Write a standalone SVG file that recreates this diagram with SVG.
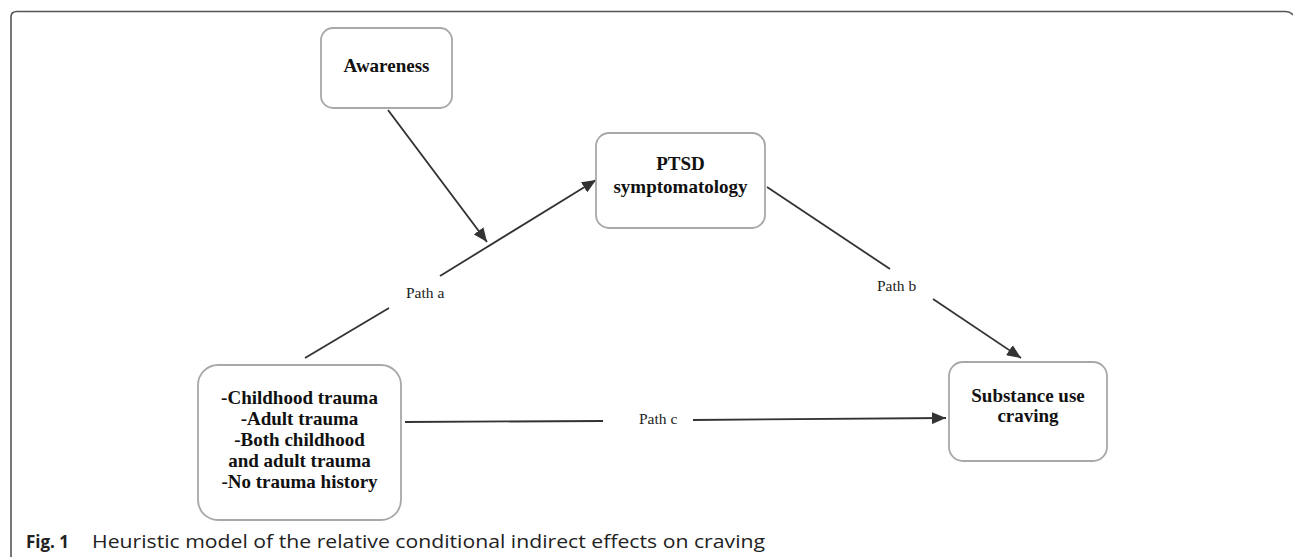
<svg xmlns="http://www.w3.org/2000/svg" width="1293" height="557" viewBox="0 0 1293 557">
  <style>
    .box { fill: #ffffff; stroke: #a8a8a8; stroke-width: 1.8; }
    .node { font-family: "Liberation Serif", "Times New Roman", serif; font-weight: bold; font-size: 19px; fill: #111; text-anchor: middle; }
    .lbl { font-family: "Liberation Serif", "Times New Roman", serif; font-size: 15.5px; fill: #222; }
    .edge { stroke: #333; stroke-width: 1.8; fill: none; }
    .cap { font-family: "Open Sans", "Noto Sans", sans-serif; font-size: 18px; fill: #222; }
  </style>
  <defs>
    <marker id="arr" markerUnits="userSpaceOnUse" markerWidth="16" markerHeight="12" refX="14" refY="6" orient="auto">
      <path d="M0,0 L14,6 L0,12 z" fill="#333"/>
    </marker>
  </defs>
  <rect width="1293" height="557" fill="#ffffff"/>
  <path d="M11,557 V17 Q11,11.5 17,11.5 H1285 Q1290,11.5 1293,15" fill="none" stroke="#555" stroke-width="1.6"/>

  <g id="connectors">
    <line class="edge" x1="388" y1="110" x2="487" y2="242" marker-end="url(#arr)"/>
    <line class="edge" x1="305" y1="358" x2="389" y2="308"/>
    <line class="edge" x1="440" y1="276" x2="596" y2="180" marker-end="url(#arr)"/>
    <line class="edge" x1="767" y1="187" x2="890" y2="269"/>
    <line class="edge" x1="933" y1="299" x2="1021" y2="358" marker-end="url(#arr)"/>
    <line class="edge" x1="405" y1="422" x2="603" y2="421"/>
    <line class="edge" x1="693" y1="420" x2="946" y2="418" marker-end="url(#arr)"/>
    <text class="lbl" x="406" y="298">Path a</text>
    <text class="lbl" x="877" y="291">Path b</text>
    <text class="lbl" x="639" y="424">Path c</text>
  </g>

  <g id="awareness">
    <rect class="box" x="321" y="28" width="131" height="80" rx="12"/>
    <text class="node" x="386.5" y="72">Awareness</text>
  </g>

  <g id="ptsd">
    <rect class="box" x="596" y="133" width="169" height="95" rx="13"/>
    <text class="node" x="680.5" y="170">PTSD</text>
    <text class="node" x="680.5" y="193">symptomatology</text>
  </g>

  <g id="trauma">
    <rect class="box" x="198" y="365" width="203" height="155" rx="20"/>
    <text class="node" x="299.5" y="404">-Childhood trauma</text>
    <text class="node" x="299.5" y="425">-Adult trauma</text>
    <text class="node" x="299.5" y="446">-Both childhood</text>
    <text class="node" x="299.5" y="467">and adult trauma</text>
    <text class="node" x="299.5" y="488">-No trauma history</text>
  </g>

  <g id="craving">
    <rect class="box" x="949" y="362" width="158" height="99" rx="14"/>
    <text class="node" x="1028" y="402">Substance use</text>
    <text class="node" x="1028" y="422">craving</text>
  </g>

  <g id="caption">
    <text class="cap" x="26" y="548" font-weight="bold" textLength="43" lengthAdjust="spacingAndGlyphs">Fig. 1</text>
    <text class="cap" x="92" y="548" textLength="673" lengthAdjust="spacingAndGlyphs">Heuristic model of the relative conditional indirect effects on craving</text>
  </g>
</svg>
